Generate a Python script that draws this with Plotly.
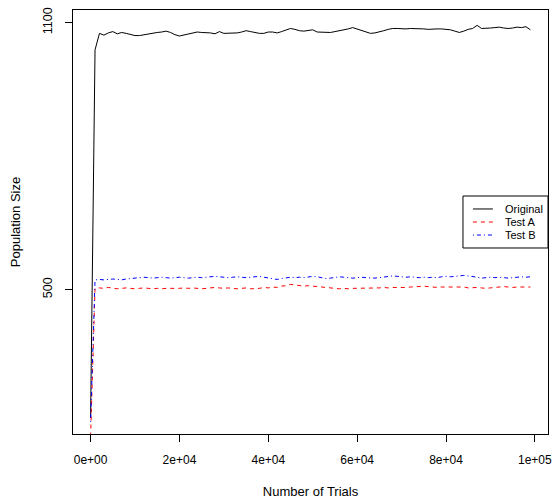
import plotly.graph_objects as go

# ---- data ----
trials = [i * 1000 for i in range(100)]

original = [212, 1039, 1076, 1072, 1077, 1080, 1075, 1078, 1076, 1073,
            1071, 1071, 1073, 1075, 1076, 1078, 1079, 1081, 1078, 1073,
            1070, 1072, 1075, 1077, 1079, 1078, 1078, 1077, 1075, 1080,
            1076, 1076, 1076, 1077, 1079, 1082, 1080, 1078, 1076, 1076,
            1079, 1079, 1077, 1080, 1084, 1087, 1085, 1082, 1081, 1082,
            1084, 1079, 1079, 1078, 1078, 1080, 1082, 1083, 1086, 1089,
            1086, 1082, 1079, 1076, 1077, 1079, 1082, 1085, 1087, 1087,
            1086, 1086, 1087, 1087, 1086, 1086, 1085, 1086, 1086, 1086,
            1085, 1084, 1081, 1078, 1081, 1085, 1087, 1094, 1087, 1087,
            1088, 1089, 1090, 1088, 1087, 1088, 1090, 1089, 1091, 1084]

test_a = [170, 503, 504, 503, 505, 504, 502, 503, 504, 503,
          502, 503, 504, 503, 502, 503, 502, 503, 503, 502,
          503, 504, 503, 504, 503, 502, 503, 504, 505, 504,
          503, 504, 503, 502, 503, 504, 502, 502, 503, 505,
          504, 506, 505, 508, 509, 512, 511, 509, 508, 509,
          508, 507, 506, 504, 503, 502, 502, 503, 502, 503,
          503, 504, 504, 503, 503, 504, 505, 504, 505, 505,
          504, 505, 506, 507, 508, 508, 507, 506, 505, 506,
          506, 505, 506, 505, 506, 504, 505, 505, 504, 503,
          504, 505, 506, 507, 506, 505, 506, 506, 505, 506]

test_b = [203, 522, 523, 522, 523, 524, 523, 522, 524, 525,
          526, 527, 528, 527, 526, 527, 528, 527, 526, 527,
          528, 527, 526, 527, 528, 527, 528, 529, 530, 529,
          528, 527, 528, 529, 528, 527, 528, 529, 530, 528,
          526, 524, 523, 525, 527, 528, 527, 528, 527, 528,
          530, 529, 527, 525, 526, 528, 529, 528, 527, 526,
          527, 528, 527, 526, 526, 527, 528, 529, 531, 530,
          529, 528, 529, 528, 527, 528, 527, 528, 527, 529,
          530, 529, 530, 531, 532, 531, 530, 528, 526, 527,
          528, 527, 528, 527, 526, 527, 528, 529, 528, 529]

series_names = ["Original", "Test A", "Test B"]
x_tickvals = [0, 20000, 40000, 60000, 80000, 100000]
x_ticktext = ["0e+00", "2e+04", "4e+04", "6e+04", "8e+04", "1e+05"]
y_tickvals = [500, 1100]
y_ticktext = ["500", "1100"]

FONT = "Liberation Sans, Arial, Helvetica, sans-serif"
styles = [
    dict(color="black", width=1, dash="solid"),
    dict(color="red", width=1, dash="4px,4px"),
    dict(color="blue", width=1, dash="1px,3px,4px,3px"),
]

fig = go.Figure()
for name, ys, st in zip(series_names, [original, test_a, test_b], styles):
    fig.add_trace(go.Scatter(x=trials, y=ys, mode="lines", name=name,
                             line=st, showlegend=False))

# custom R-style legend box
L, R_, T, B = 0.821, 1.0, 0.5613, 0.4387
fig.add_shape(type="rect", xref="paper", yref="paper", x0=L, x1=R_, y0=B, y1=T,
              line=dict(color="black", width=1), fillcolor="white", layer="above")
rows = [0.5307, 0.5, 0.4693]
for name, st, yy in zip(series_names, styles, rows):
    fig.add_shape(type="line", xref="paper", yref="paper", x0=0.842, x1=0.884,
                  y0=yy, y1=yy, line=st, layer="above")
    fig.add_annotation(xref="paper", yref="paper", x=0.905, y=yy, text=name,
                       showarrow=False, xanchor="left", yanchor="middle",
                       font=dict(family=FONT, size=11, color="black"))

fig.update_layout(
    template="none",
    width=553, height=502,
    margin=dict(l=73, r=5, t=10, b=68, pad=0),
    paper_bgcolor="white", plot_bgcolor="white",
    font=dict(family=FONT, size=12, color="black"),
    showlegend=False,
)
fig.update_xaxes(
    automargin=False,
    range=[-3960, 102960], showgrid=False, zeroline=False,
    showline=True, linecolor="black", linewidth=1, mirror=True,
    ticks="outside", ticklen=7, tickcolor="black", tickwidth=1,
    tickvals=x_tickvals, ticktext=x_ticktext, ticklabelstandoff=8,
    tickfont=dict(size=12),
    title=dict(text="Number of Trials", standoff=20, font=dict(size=13)),
)
fig.update_yaxes(
    automargin=False,
    range=[175.7, 1128.5], showgrid=False, zeroline=False,
    showline=True, linecolor="black", linewidth=1, mirror=True,
    ticks="outside", ticklen=7, tickcolor="black", tickwidth=1,
    tickvals=y_tickvals, ticktext=y_ticktext, tickangle=-90, ticklabelstandoff=8,
    tickfont=dict(size=12.5),
    title=dict(text="Population Size", standoff=17, font=dict(size=13)),
)

fig.write_html(
    "out.html",
    config={"displayModeBar": False},
    post_script="document.body.style.margin='0';document.body.style.overflow='hidden';",
)
